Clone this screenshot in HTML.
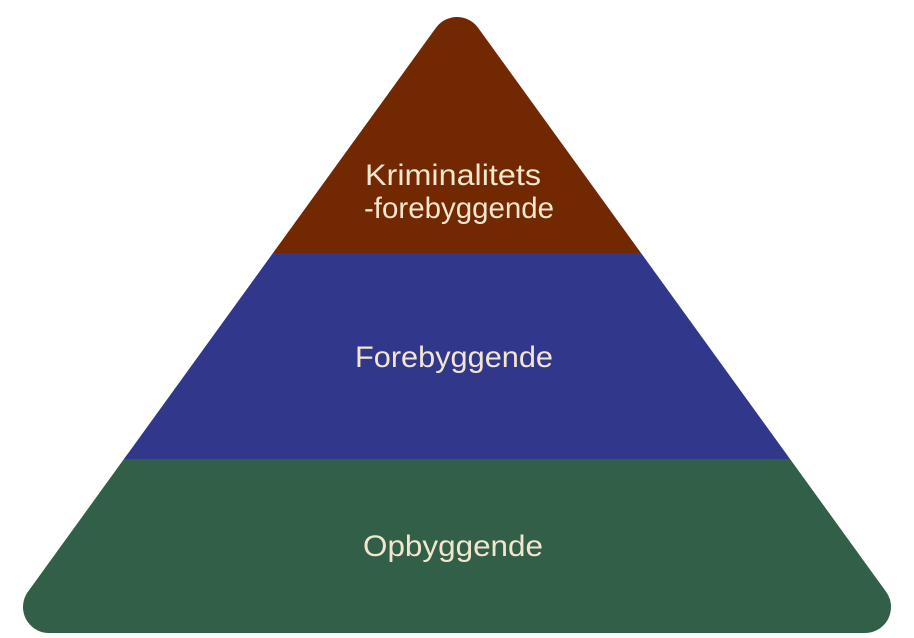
<!DOCTYPE html>
<html><head><style>html,body{margin:0;padding:0;background:#fff;width:914px;height:638px;overflow:hidden}</style></head>
<body>
<svg width="914" height="638" viewBox="0 0 914 638" xmlns="http://www.w3.org/2000/svg">
<defs>
<mask id="m">
<polygon points="457,43 49,607 865,607" fill="#fff" stroke="#fff" stroke-width="52" stroke-linejoin="round"/>
</mask>
</defs>
<g mask="url(#m)">
<rect x="0" y="0" width="914" height="253" fill="#722800"/>
<rect x="0" y="253" width="914" height="206" fill="#31388b"/>
<rect x="0" y="459" width="914" height="179" fill="#325f48"/>
</g>
<g font-family="Liberation Sans, sans-serif" font-size="30" fill="#f3e6cf" text-anchor="middle">
<text x="453" y="185" textLength="176" lengthAdjust="spacingAndGlyphs">Kriminalitets</text>
<text x="459" y="218" textLength="190" lengthAdjust="spacingAndGlyphs">-forebyggende</text>
<text x="454" y="367" textLength="198" lengthAdjust="spacingAndGlyphs">Forebyggende</text>
<text x="453" y="556" textLength="180" lengthAdjust="spacingAndGlyphs">Opbyggende</text>
</g>
</svg>
</body></html>
